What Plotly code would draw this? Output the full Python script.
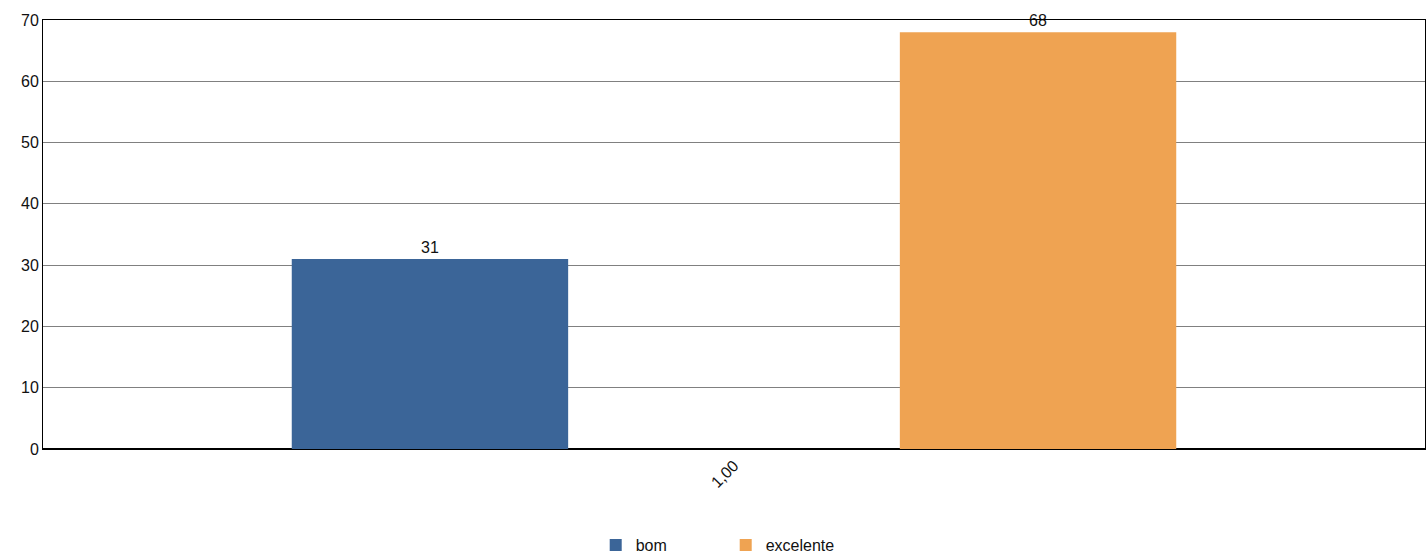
import plotly.graph_objects as go

categories = ["1,00"]
series_names = ["bom", "excelente"]
bom_values = [31]
excelente_values = [68]
y_ticks = [0, 10, 20, 30, 40, 50, 60, 70]

colors = {"bom": "#3B6598", "excelente": "#EFA352"}
font = dict(family="Liberation Sans, Arial, sans-serif", size=16, color="#111")

fig = go.Figure()
fig.add_trace(go.Bar(
    name="bom", x=categories, y=bom_values, marker_color=colors["bom"],
    marker_line_width=0,
    width=0.2, offset=-0.32, text=bom_values, textposition="outside",
    textfont=font, cliponaxis=False,
))
fig.add_trace(go.Bar(
    name="excelente", x=categories, y=excelente_values, marker_color=colors["excelente"],
    marker_line_width=0,
    width=0.2, offset=0.12, text=excelente_values, textposition="outside",
    textfont=font, cliponaxis=False,
))

fig.update_layout(
    width=1428, height=556,
    margin=dict(l=43, r=3, t=20, b=107, autoexpand=False),
    paper_bgcolor="white", plot_bgcolor="white",
    font=font,
    barmode="group",
    showlegend=True,
    legend=dict(orientation="h", x=0.494, xanchor="center", y=-0.224, yanchor="middle",
                font=font, entrywidth=85, entrywidthmode="pixels", traceorder="normal"),
)
fig.update_xaxes(
    type="category", range=[-0.5, 0.5], tickangle=-45, tickfont=font,
    showline=True, linecolor="black", linewidth=1, mirror=True,
    showgrid=False, ticks="", ticklen=0, automargin=False,
)
fig.update_yaxes(
    range=[0, 70], tickvals=y_ticks, tickfont=font,
    showline=True, linecolor="black", linewidth=1, mirror=True,
    showgrid=True, gridcolor="#808080", gridwidth=1,
    zeroline=True, zerolinecolor="black", zerolinewidth=2,
    ticks="", ticklen=0, automargin=False,
)

fig.write_html(
    "out.html",
    config={"displayModeBar": False},
    post_script="document.body.style.margin='0';document.body.style.overflow='hidden';",
)
